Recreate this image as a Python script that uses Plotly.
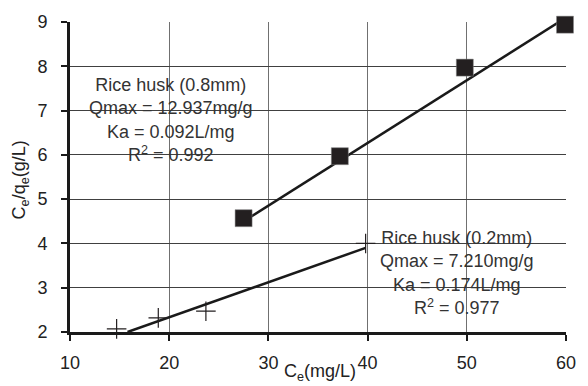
import plotly.graph_objects as go

# Data: rice husk 0.8 mm (squares)
ce_08 = [27.5, 37.2, 49.8, 59.9]
ratio_08 = [4.57, 5.97, 7.97, 8.94]
fit_08_x = [27.5, 60.0]
fit_08_y = [4.50, 9.10]

# Data: rice husk 0.2 mm (plus markers)
ce_02 = [14.7, 18.9, 23.7, 39.8]
ratio_02 = [2.07, 2.32, 2.47, 4.0]
fit_02_x = [15.8, 39.8]
fit_02_y = [2.0, 3.9]

x_ticks = [10, 20, 30, 40, 50, 60]
y_ticks = [2, 3, 4, 5, 6, 7, 8, 9]

label_08 = "Rice husk (0.8mm)<br>Qmax = 12.937mg/g<br>Ka = 0.092L/mg<br>R<sup>2</sup> = 0.992"
label_02 = "Rice husk (0.2mm)<br>Qmax = 7.210mg/g<br>Ka = 0.174L/mg<br>R<sup>2</sup> = 0.977"

FONT = "Liberation Sans, Arial, sans-serif"

fig = go.Figure()
fig.add_trace(go.Scatter(x=fit_08_x, y=fit_08_y, mode="lines",
                         line=dict(color="#1a1a1a", width=2.5), showlegend=False))
fig.add_trace(go.Scatter(x=fit_02_x, y=fit_02_y, mode="lines",
                         line=dict(color="#1a1a1a", width=2.5), showlegend=False))
fig.add_trace(go.Scatter(x=ce_08, y=ratio_08, mode="markers",
                         marker=dict(symbol="square", size=17, color="#231f20",
                                     line=dict(color="#888", width=0.5)),
                         showlegend=False, cliponaxis=False))
fig.add_trace(go.Scatter(x=ce_02, y=ratio_02, mode="markers",
                         marker=dict(symbol="cross-thin", size=14,
                                     line=dict(color="#231f20", width=1.2)),
                         showlegend=False, cliponaxis=False))

fig.update_layout(
    width=588, height=386,
    margin=dict(l=70, r=12, t=21, b=54),
    paper_bgcolor="white", plot_bgcolor="white",
    font=dict(family=FONT, size=18, color="#222"),
    xaxis=dict(range=[10, 60], tickvals=x_ticks, showgrid=True, gridcolor="#707070",
               gridwidth=1, showline=True, linecolor="#1a1a1a", linewidth=3,
               ticks="outside", ticklen=6, tickwidth=1.5, tickcolor="#1a1a1a",
               ticklabelstandoff=6, zeroline=False,
               tickfont=dict(family=FONT, size=18, color="#222")),
    yaxis=dict(range=[2, 9], tickvals=y_ticks, showgrid=True, gridcolor="#404040",
               gridwidth=1, showline=True, linecolor="#1a1a1a", linewidth=3,
               ticks="outside", ticklen=6, tickwidth=1.5, tickcolor="#1a1a1a",
               ticklabelstandoff=10, zeroline=False,
               tickfont=dict(family=FONT, size=18, color="#222")),
    annotations=[
        dict(x=20.2, y=6.79, xref="x", yref="y", text=label_08, showarrow=False,
             align="center", xanchor="center", yanchor="middle",
             font=dict(family=FONT, size=18, color="#333")),
        dict(x=49.0, y=3.33, xref="x", yref="y", text=label_02, showarrow=False,
             align="center", xanchor="center", yanchor="middle",
             font=dict(family=FONT, size=18, color="#333")),
        dict(x=0.504, y=-0.132, xref="paper", yref="paper",
             xanchor="center", yanchor="middle",
             text="C<sub>e</sub>(mg/L)", showarrow=False,
             font=dict(family=FONT, size=18, color="#222")),
        dict(x=-0.099, y=0.492, xref="paper", yref="paper",
             xanchor="center", yanchor="middle",
             text="C<sub>e</sub>/q<sub>e</sub>(g/L)", showarrow=False, textangle=-90,
             font=dict(family=FONT, size=18, color="#222")),
    ],
)

fig.write_html("out.html")
